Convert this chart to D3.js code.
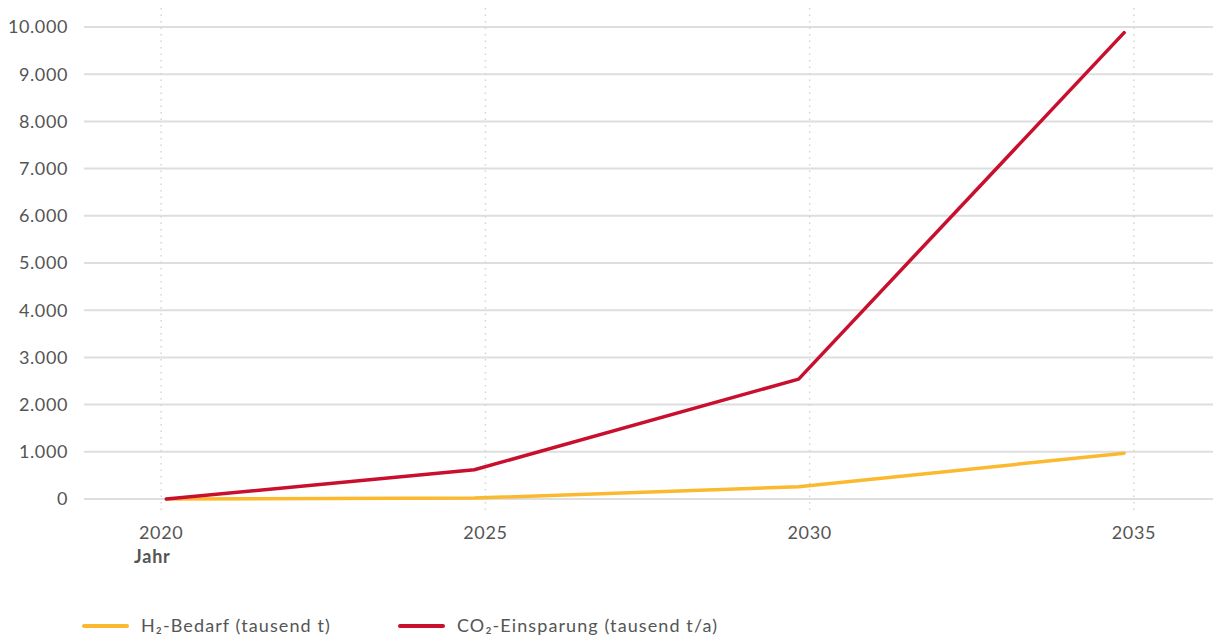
<!DOCTYPE html>
<html>
<head>
<meta charset="utf-8">
<script src="https://cdn.jsdelivr.net/npm/d3@7"></script>
<style>
  body { margin: 0; background: #fff; }
  text { font-family: Lato, "Open Sans", sans-serif; fill: #555; }
</style>
</head>
<body>
<svg width="1213" height="640"></svg>
<script>
const svg = d3.select('svg');

// data (x values are positions in years as drawn)
const years = [2020.08, 2024.83, 2029.83, 2034.85];
const h2Bedarf = [0, 20, 260, 970];
const co2Einsparung = [0, 620, 2540, 9880];
const xTicks = [2020, 2025, 2030, 2035];
const yTicks = [0, 1000, 2000, 3000, 4000, 5000, 6000, 7000, 8000, 9000, 10000];
const seriesNames = ['H₂-Bedarf (tausend t)', 'CO₂-Einsparung (tausend t/a)'];
const seriesColors = ['#fbb92f', '#c8102e'];

const x = d3.scaleLinear().domain([2018.81, 2036.22]).range([84, 1213]);
const y = d3.scaleLinear().domain([0, 10000]).range([499, 27]);

const fmt = d3.formatLocale({ decimal: ',', thousands: '.', grouping: [3], currency: ['', '€'] }).format(',.0f');

// horizontal grid + y labels
svg.append('g')
  .selectAll('line')
  .data(yTicks)
  .join('line')
  .attr('x1', x.range()[0])
  .attr('x2', x.range()[1])
  .attr('y1', d => y(d))
  .attr('y2', d => y(d))
  .attr('stroke', '#dedede')
  .attr('stroke-width', 2);

svg.append('g')
  .selectAll('text')
  .data(yTicks)
  .join('text')
  .attr('x', 68)
  .attr('y', d => y(d))
  .attr('dy', '0.35em')
  .attr('text-anchor', 'end')
  .style('font-size', '18px')
  .style('letter-spacing', '0.6px')
  .text(d => fmt(d));

// vertical dotted grid + x labels
svg.append('g')
  .selectAll('line')
  .data(xTicks)
  .join('line')
  .attr('x1', d => x(d))
  .attr('x2', d => x(d))
  .attr('y1', 8)
  .attr('y2', 512)
  .attr('stroke', '#d4d4d4')
  .attr('stroke-width', 1.5)
  .attr('stroke-dasharray', '1.5,5');

svg.append('g')
  .selectAll('text')
  .data(xTicks)
  .join('text')
  .attr('x', d => x(d))
  .attr('y', 539)
  .attr('text-anchor', 'middle')
  .style('font-size', '18px')
  .style('letter-spacing', '0.6px')
  .text(d => d);

svg.append('text')
  .attr('x', 134)
  .attr('y', 563)
  .style('font-size', '18px')
  .style('font-weight', 'bold')
  .style('letter-spacing', '0.8px')
  .text('Jahr');

// lines
const line = d3.line()
  .x((d, i) => x(years[i]))
  .y(d => y(d));

[h2Bedarf, co2Einsparung].forEach((vals, k) => {
  svg.append('path')
    .datum(vals)
    .attr('fill', 'none')
    .attr('stroke', seriesColors[k])
    .attr('stroke-width', 3.5)
    .attr('stroke-linecap', 'round')
    .attr('stroke-linejoin', 'round')
    .attr('d', line);
});

// legend
const legendX = [84, 400];
const legend = svg.append('g')
  .selectAll('g')
  .data(seriesNames)
  .join('g')
  .attr('transform', (d, i) => `translate(${legendX[i]}, 626)`);

legend.append('line')
  .attr('x1', 0)
  .attr('x2', 43)
  .attr('stroke', (d, i) => seriesColors[i])
  .attr('stroke-width', 4)
  .attr('stroke-linecap', 'round');

legend.append('text')
  .attr('x', 57)
  .attr('dy', '0.35em')
  .style('font-size', '18px')
  .style('letter-spacing', '1.1px')
  .text(d => d);
</script>
</body>
</html>
